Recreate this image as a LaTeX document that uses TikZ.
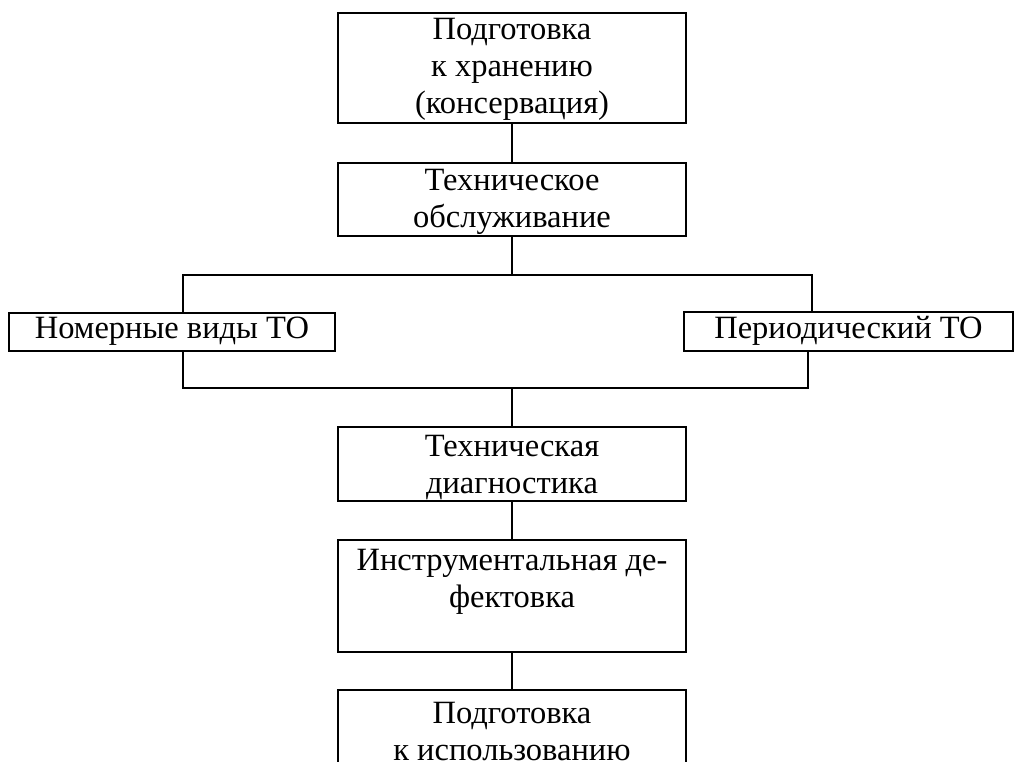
\documentclass[tikz,border=0pt]{standalone}
\usepackage{fontspec}
\setmainfont{Liberation Serif}
% width, height, first baseline, text
\newcommand{\boxtext}[4]{\parbox[t][#2][t]{#1}{\centering\rule{0pt}{#3}#4}}
\tikzset{
blk/.style={
  draw,
  line width=2.8pt,
  inner sep=0pt,
  outer sep=0pt,
  anchor=north,
  font=\fontsize{32.5}{37}\selectfont
},
lnk/.style={line width=2.8pt}
}

\begin{document}
\begin{tikzpicture}[x=1pt,y=-1pt]
\useasboundingbox (0,0) rectangle (1019,762);
\node[blk] (hran) at (512,13) {\boxtext{348pt}{110pt}{27pt}{Подготовка\\к хранению\\(консервация)}};
\node[blk] (obsl) at (512,163) {\boxtext{348pt}{73pt}{27pt}{Техническое\\обслуживание}};
\node[blk] (nom) at (172,313) {\boxtext{326pt}{38pt}{25.5pt}{Номерные виды ТО}};
\node[blk] (per) at (848.5,312) {\boxtext{329pt}{39pt}{26.5pt}{Периодический ТО}};
\node[blk] (diag) at (512,427) {\boxtext{348pt}{74pt}{29pt}{Техническая\\диагностика}};
\node[blk] (defekt) at (512,540) {\boxtext{348pt}{112pt}{30pt}{Инструментальная де-\\фектовка}};
\node[blk] (ispol) at (512,690) {\boxtext{348pt}{80pt}{33pt}{Подготовка\\к использованию}};
% the branching
\coordinate (tl) at (183,275);
\coordinate (tr) at (812,275);
\coordinate (bl) at (183,388);
\coordinate (br) at (808,388);
\draw[lnk] (hran) -- (obsl);
\draw[lnk] (obsl) -- (obsl |- tl);
\draw[lnk] (nom.north -| tl) -- (tl) -- (tr) -- (per.north -| tr);
\draw[lnk] (nom.south -| bl) -- (bl) -- (br) -- (per.south -| br);
\draw[lnk] (diag.north |- bl) -- (diag);
\draw[lnk] (diag) -- (defekt);
\draw[lnk] (defekt) -- (ispol);
\end{tikzpicture}
\end{document}
